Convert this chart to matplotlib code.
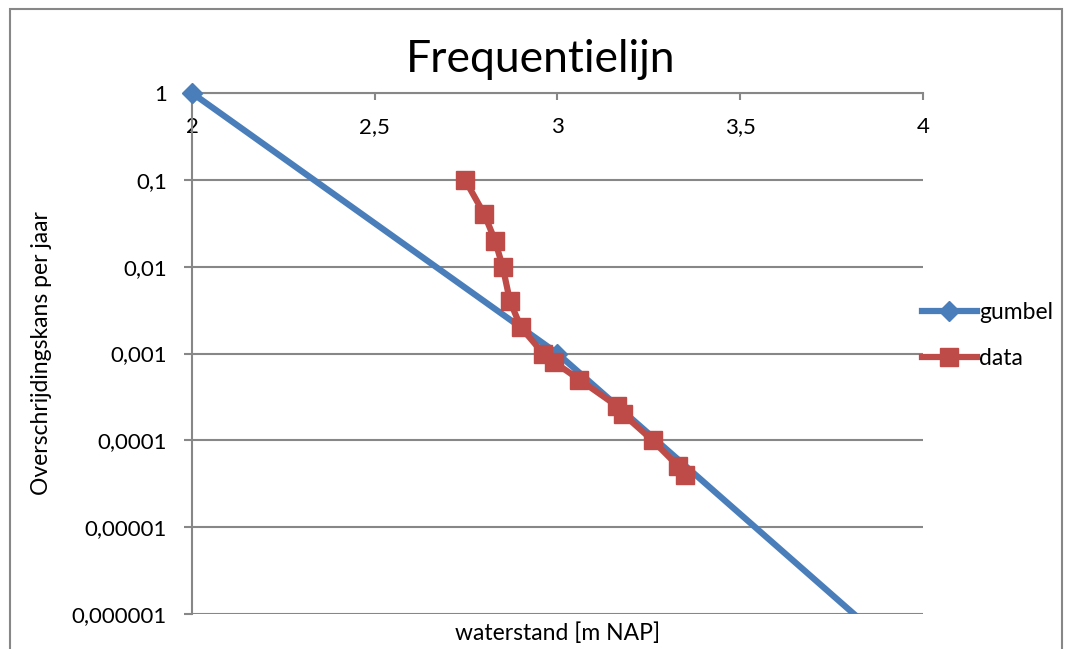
import matplotlib
matplotlib.use("Agg")
import matplotlib.pyplot as plt
from matplotlib.patches import Rectangle

plt.rcParams['font.family'] = ['Lato', 'DejaVu Sans']

# Gumbel-lijn (overschrijdingskans per jaar)
gumbel_x = [2.0, 3.0, 4.0]
gumbel_p = [1.0, 0.001, 2e-7]

# Gemeten waterstanden
data_x = [2.747, 2.800, 2.829, 2.850, 2.870, 2.900, 2.961, 2.990,
          3.060, 3.162, 3.180, 3.260, 3.331, 3.349]
data_p = [0.1, 0.04, 0.02, 0.01, 0.004, 0.002, 0.001, 0.0008,
          0.0005, 0.00025, 0.0002, 0.0001, 0.00005, 0.00004]

x_ticks = [2, 2.5, 3, 3.5, 4]
x_ticklabels = ['2', '2,5', '3', '3,5', '4']
y_ticks = [1, 0.1, 0.01, 0.001, 0.0001, 0.00001, 0.000001]
y_ticklabels = ['1', '0,1', '0,01', '0,001', '0,0001', '0,00001', '0,000001']

blauw = '#4A7EBB'
rood = '#BE4B48'
grijs = '#878787'

fig = plt.figure(figsize=(10.68, 6.49), dpi=100)
ax = fig.add_axes([192/1068, 1 - 614/649, (923 - 192)/1068, (614 - 93)/649])

# kader rond de grafiek
fig.patches.append(Rectangle((9.5/1068, -0.1), (1062 - 9.5)/1068, 1.1 - 9.5/649,
                             transform=fig.transFigure, fill=False,
                             edgecolor=grijs, lw=1.5))

ax.plot(gumbel_x, gumbel_p, color=blauw, lw=4.5, marker='D', markersize=10,
        markevery=[0, 1], label='gumbel', zorder=3)
ax.plot(gumbel_x[:1], gumbel_p[:1], linestyle='none', color=blauw, marker='D',
        markersize=10, clip_on=False, zorder=4)
ax.plot(data_x, data_p, color=rood, lw=4.5, marker='s', markersize=13,
        label='data', zorder=5)

ax.set_yscale('log')
ax.set_xlim(2, 4)
ax.set_ylim(1e-6, 1)
ax.set_yticks(y_ticks)
ax.set_yticklabels(y_ticklabels)
ax.minorticks_off()
ax.set_xticks(x_ticks)
ax.set_xticklabels(x_ticklabels)

ax.yaxis.grid(True, color=grijs, lw=1.5)
ax.set_axisbelow(True)
for s in ['right', 'bottom']:
    ax.spines[s].set_visible(False)
for s in ['left', 'top']:
    ax.spines[s].set_color(grijs)
    ax.spines[s].set_linewidth(1.5)

ax.tick_params(axis='y', direction='out', length=6, width=1.5, color=grijs,
               labelsize=16, pad=12)
ax.tick_params(axis='x', top=True, bottom=False, labeltop=True, labelbottom=False,
               direction='in', length=5, width=1.5, color=grijs,
               labelsize=16, pad=-17)
for lbl in ax.get_xticklabels():
    lbl.set_verticalalignment('top')

ax.set_title('Frequentielijn', fontsize=32, pad=15, x=0.477)
ax.set_xlabel('waterstand [m NAP]', fontsize=16.5, labelpad=6)
ax.set_ylabel('Overschrijdingskans per jaar', fontsize=16.5, labelpad=14)

ax.legend(loc='center left', bbox_to_anchor=(0.97, 0.535), frameon=False,
          fontsize=16.5, handlelength=2.4, handletextpad=0.1, labelspacing=1.1)

fig.savefig('out.png', dpi=100)
